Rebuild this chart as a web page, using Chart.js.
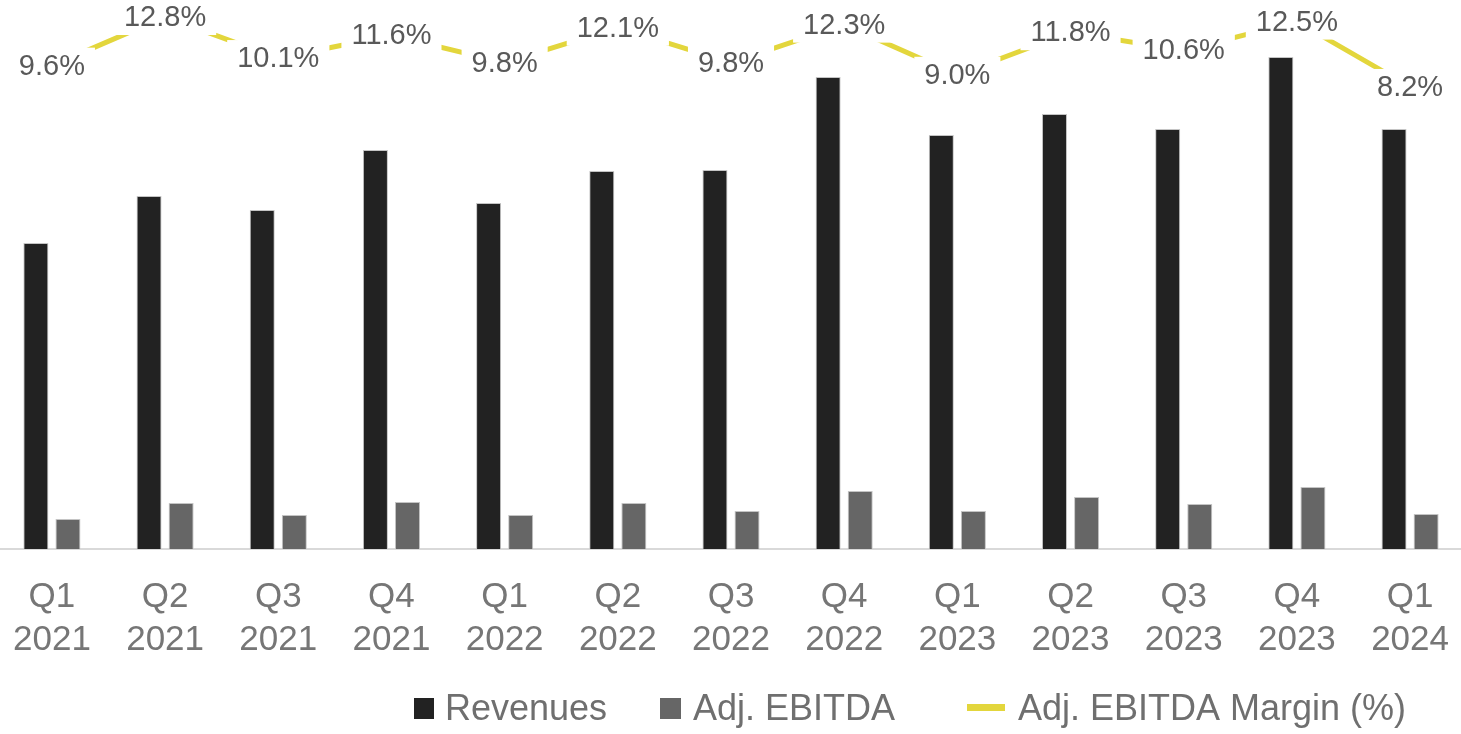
<!DOCTYPE html>
<html>
<head>
<meta charset="utf-8">
<script src="https://cdn.jsdelivr.net/npm/chart.js@4.4.1/dist/chart.umd.min.js"></script>
<style>
  html, body { margin: 0; padding: 0; background: #ffffff; overflow: hidden; }
  #wrap { position: absolute; left: -5px; top: 0; width: 1472px; height: 734px; }
</style>
</head>
<body>
<div id="wrap"><canvas id="c"></canvas></div>
<script>
const categories = [
  ['Q1','2021'],['Q2','2021'],['Q3','2021'],['Q4','2021'],
  ['Q1','2022'],['Q2','2022'],['Q3','2022'],['Q4','2022'],
  ['Q1','2023'],['Q2','2023'],['Q3','2023'],['Q4','2023'],
  ['Q1','2024']
];
const revenues = [306, 353, 339, 399, 346, 378, 379, 472, 414, 435, 420, 492, 420];
const adjEbitda = [30, 46, 34, 47, 34, 46, 38, 58, 38, 52, 45, 62, 35];
const marginPct = [9.6, 12.8, 10.1, 11.6, 9.8, 12.1, 9.8, 12.3, 9.0, 11.8, 10.6, 12.5, 8.2];
const seriesNames = ['Revenues', 'Adj. EBITDA', 'Adj. EBITDA Margin (%)'];

const FONT = "'Liberation Sans', Arial, sans-serif";
const C_REV = '#222222', C_EB = '#666666', C_LINE = '#E3D63C';

const labelPlugin = {
  id: 'marginLabels',
  afterDatasetsDraw(chart) {
    const ctx = chart.ctx;
    const meta = chart.getDatasetMeta(2);
    ctx.save();
    ctx.font = '29px ' + FONT;
    ctx.textAlign = 'center';
    ctx.textBaseline = 'middle';
    meta.data.forEach((pt, i) => {
      const txt = marginPct[i].toFixed(1) + '%';
      const w = ctx.measureText(txt).width;
      ctx.fillStyle = '#ffffff';
      ctx.fillRect(pt.x - w / 2 - 10, pt.y - 18, w + 20, 36);
      ctx.fillStyle = '#595959';
      ctx.fillText(txt, pt.x, pt.y + 1);
    });
    ctx.restore();
  }
};

const legendPlugin = {
  id: 'customLegend',
  afterDraw(chart) {
    const ctx = chart.ctx;
    ctx.save();
    const off = 5; // wrapper offset
    ctx.font = '36px ' + FONT;
    ctx.textBaseline = 'alphabetic';
    ctx.textAlign = 'left';
    ctx.fillStyle = C_REV;
    ctx.fillRect(414 + off, 698, 20, 21);
    ctx.fillStyle = '#6f6f6f';
    ctx.fillText(seriesNames[0], 445 + off, 720);
    ctx.fillStyle = C_EB;
    ctx.fillRect(660 + off, 698, 21, 21);
    ctx.fillStyle = '#6f6f6f';
    ctx.fillText(seriesNames[1], 693 + off, 720);
    ctx.fillStyle = C_LINE;
    ctx.fillRect(967 + off, 704, 38, 7);
    ctx.fillStyle = '#6f6f6f';
    ctx.fillText(seriesNames[2], 1018 + off, 720);
    ctx.restore();
  }
};

new Chart(document.getElementById('c'), {
  data: {
    labels: categories,
    datasets: [
      {
        type: 'bar', label: seriesNames[0], data: revenues, yAxisID: 'y',
        backgroundColor: C_REV, borderColor: '#c4c4c4', borderWidth: 1,
        categoryPercentage: 0.567, barPercentage: 0.78, order: 2
      },
      {
        type: 'bar', label: seriesNames[1], data: adjEbitda, yAxisID: 'y',
        backgroundColor: C_EB, borderColor: '#c4c4c4', borderWidth: 1,
        categoryPercentage: 0.567, barPercentage: 0.78, order: 2
      },
      {
        type: 'line', label: seriesNames[2], data: marginPct, yAxisID: 'y1',
        borderColor: C_LINE, backgroundColor: C_LINE, borderWidth: 5,
        pointRadius: 0, tension: 0, clip: false, order: 1
      }
    ]
  },
  options: {
    responsive: true,
    maintainAspectRatio: false,
    animation: false,
    layout: { padding: { top: 0, bottom: 55, left: 0, right: 0 } },
    plugins: { legend: { display: false }, tooltip: { enabled: false } },
    scales: {
      x: {
        grid: { display: false },
        border: { display: true, color: '#d9d9d9', width: 2 },
        ticks: { color: '#767676', font: { family: FONT, size: 35, lineHeight: 1.25 }, padding: 18, maxRotation: 0, autoSkip: false },
        afterFit(scale) { scale.height = 130; }
      },
      y: { display: false, min: 0, max: 549 },
      y1: { display: false, min: -22.2, max: 13.92 }
    }
  },
  plugins: [labelPlugin, legendPlugin]
});
</script>
</body>
</html>
